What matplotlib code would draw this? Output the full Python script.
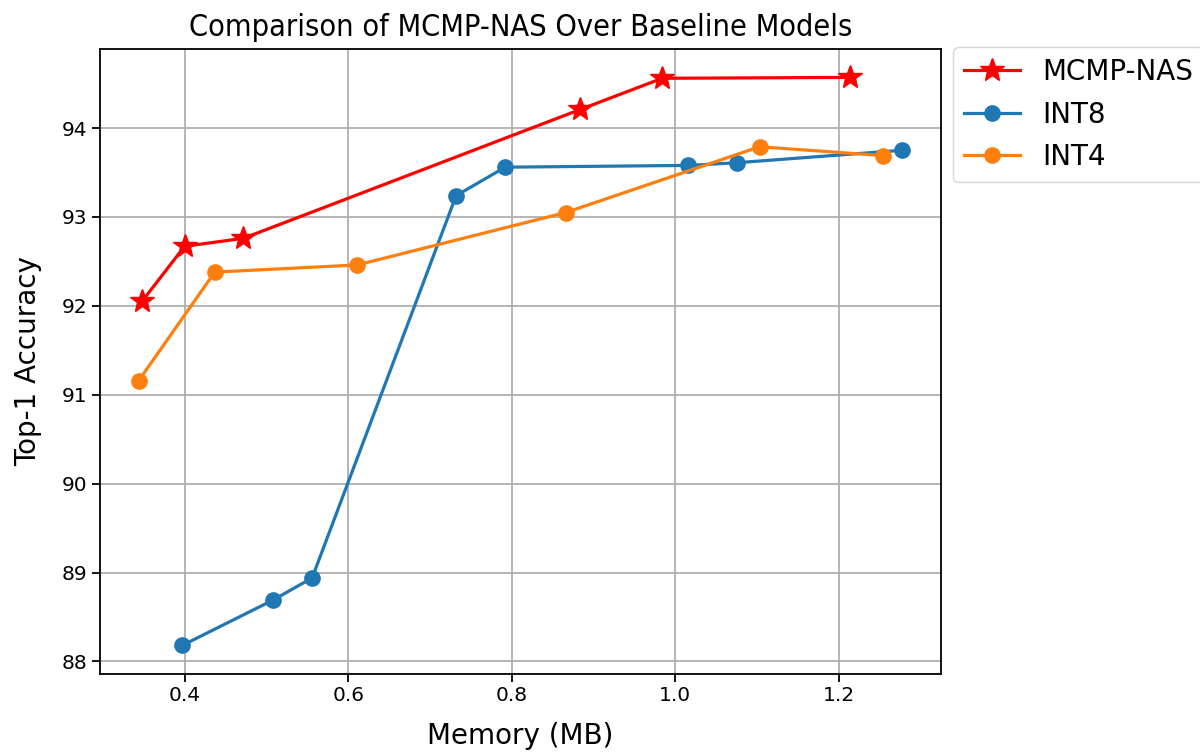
import matplotlib
matplotlib.use("Agg")
import matplotlib.pyplot as plt

# values
mcmp_mem = [0.348, 0.400, 0.472, 0.884, 0.984, 1.214]
mcmp_acc = [92.05, 92.67, 92.76, 94.21, 94.56, 94.57]

int8_mem = [0.397, 0.508, 0.556, 0.732, 0.792, 1.016, 1.075, 1.277]
int8_acc = [88.18, 88.69, 88.94, 93.24, 93.56, 93.58, 93.61, 93.75]

int4_mem = [0.344, 0.437, 0.611, 0.866, 1.103, 1.254]
int4_acc = [91.16, 92.38, 92.46, 93.05, 93.79, 93.69]

fig = plt.figure(figsize=(12, 7.53), dpi=100)
ax = fig.add_axes([0.0833, 0.105, 0.7006, 0.830])

ax.plot(mcmp_mem, mcmp_acc, color="red", marker="*", markersize=18, linewidth=2.3, label="MCMP-NAS")
ax.plot(int8_mem, int8_acc, color="#1f77b4", marker="o", markersize=11, linewidth=2.3, label="INT8")
ax.plot(int4_mem, int4_acc, color="#ff7f0e", marker="o", markersize=11, linewidth=2.3, label="INT4")

ax.set_xlim(0.2966, 1.3244)
ax.set_ylim(87.86, 94.89)
ax.set_xticks([0.4, 0.6, 0.8, 1.0, 1.2])
ax.set_yticks([88, 89, 90, 91, 92, 93, 94])
ax.grid(True, color="#b0b0b0", linewidth=1.3)
ax.tick_params(labelsize=14.5, length=5.5, width=1.3)
for s in ax.spines.values():
    s.set_linewidth(1.3)

ax.set_xlabel("Memory (MB)", fontsize=20, labelpad=12)
ax.set_ylabel("Top-1 Accuracy", fontsize=20, labelpad=14)
ax.set_title("Comparison of MCMP-NAS Over Baseline Models", fontsize=22, fontstretch="condensed", pad=9)

ax.legend(loc="upper left", bbox_to_anchor=(1.0146, 1.003), borderaxespad=0, fontsize=20, labelspacing=0.52)

fig.savefig("out.png", dpi=100)
